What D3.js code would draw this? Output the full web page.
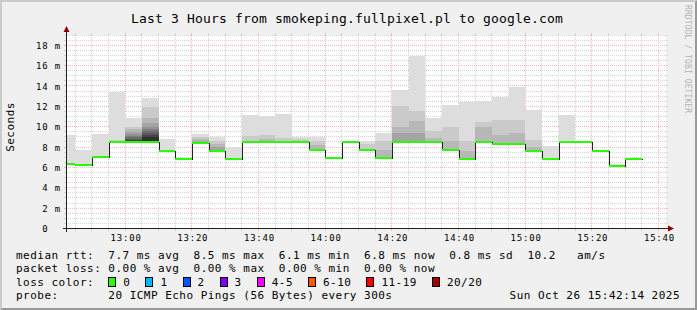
<!DOCTYPE html>
<html><head><meta charset="utf-8">
<script src="https://cdn.jsdelivr.net/npm/d3@7"></script>
<style>
html,body{margin:0;padding:0;background:#f0f0f0;}
svg{display:block;font-family:"DejaVu Sans Mono",monospace;}
text{white-space:pre;}
</style></head><body>
<svg id="c" width="697" height="310"></svg>
<script>
// ---------------- data ----------------
const stepStart = ["12:40","12:45","12:50","12:55","13:00","13:05","13:10","13:15","13:20","13:25",
  "13:30","13:35","13:40","13:45","13:50","13:55","14:00","14:05","14:10","14:15",
  "14:20","14:25","14:30","14:35","14:40","14:45","14:50","14:55","15:00","15:05",
  "15:10","15:15","15:20","15:25","15:30"];
// median rtt in ms per 5-minute step
const medianMs = [6.35,6.25,7.07,8.45,8.45,8.45,7.66,6.87,8.35,7.66,
  6.87,8.45,8.45,8.45,8.45,7.76,6.97,8.45,7.76,6.97,
  8.45,8.45,8.45,7.76,6.87,8.45,8.32,8.32,7.66,6.87,
  8.45,8.45,7.66,6.16,6.87];
// upper ping levels (ms) per step, outermost (slowest) first
const smokeUpper = [
  [9.17],[7.73],[9.3],[13.36,8.7],
  [10.87,10.0,9.75,9.5,9.3,9.1,8.95,8.8,8.7,8.6],
  [12.84,11.9,10.9,10.4,10.0,9.8,9.6,9.4,9.2,9.0],
  [8.84],[],[9.25,9.0,8.8,8.6],[8.97,8.55,8.3,8.0],
  [7.98],[11.17,9.1],[11.07,9.2,8.8],[11.27,8.88],[8.97,8.78],
  [8.97,8.6,8.2],[],[],[8.58,8.29],[9.43,8.55,7.73],
  [13.63,12.0,10.0,9.37],[16.9,11.5,10.58,9.37],[10.9,9.6,8.88],[12.15,10.0,8.55],[12.38,8.55,7.63],
  [12.55,10.5,10.0],[12.87,10.68,9.2],[13.86,10.68,9.37],[11.6,8.7,8.05],[8.12],
  [11.17],[],[],[6.35],[]
];
const yTickValues = [0,2,4,6,8,10,12,14,16,18];
const rttValues = ["7.7","8.5","6.1","6.8","0.8"];
const rttLabels = ["avg","max","min","now","sd"];
const ampsValue = "10.2";
const lossValues = ["0.00","0.00","0.00","0.00"];
const lossLabels = ["avg","max","min","now"];
const lossColorLabels = ["0","1","2","3","4-5","6-10","11-19","20/20"];
const lossColors = ["#26ff00","#00b8ff","#0059ff","#7e00ff","#ff00ff","#ff5500","#ff0000","#a10000"];
const titleText = "Last 3 Hours from smokeping.fullpixel.pl to google.com";
const probeText = "20 ICMP Echo Pings (56 Bytes) every 300s";
const dateText = "Sun Oct 26 15:42:14 2025";

// ---------------- layout ----------------
const W = 697, H = 310;
const PL = 66, PR = 666, PT = 35, PB = 228.5;
const svg = d3.select("#c");
const day = (hm, s=0) => { const [h,m] = hm.split(":").map(Number); return new Date(2025,9,26,h,m,s); };
const tStart = day("12:42",14), tEnd = day("15:42",14);
const x = d3.scaleTime().domain([tStart,tEnd]).range([PL,PR]);
const y = d3.scaleLinear().domain([0,19]).range([PB, PB - 19*10.18]);
const px = v => Math.floor(v) + 0.5;

// background + shades
svg.append("rect").attr("width",W).attr("height",H).attr("fill","#f0f0f0");
svg.append("path").attr("d",`M0,0H${W}L${W-2},2H2V${H-2}L0,${H}Z`).attr("fill","#cbcbcb");
svg.append("path").attr("d",`M${W},${H}H0L2,${H-2}H${W-2}V2L${W},0Z`).attr("fill","#999999");
svg.append("rect").attr("x",PL).attr("y",PT).attr("width",PR-PL).attr("height",PB-PT).attr("fill","#fff");

const defs = svg.append("defs");
defs.append("clipPath").attr("id","plot").append("rect").attr("x",PL).attr("y",PT-1).attr("width",PR-PL).attr("height",PB-PT+1);

// grid
const grid = svg.append("g").attr("shape-rendering","crispEdges");
const minorCol = "#d4d4d4", majorCol = "#f5b8b8";
const minorY = d3.range(0.5, 19.01, 0.5).filter(v => v % 2 !== 0);
const majorY = yTickValues.filter(v => v > 0);
function hLine(v, col){
  const yy = px(y(v));
  grid.append("line").attr("x1",PL).attr("x2",PR).attr("y1",yy).attr("y2",yy)
    .attr("stroke",col).attr("stroke-dasharray","1,1");
  grid.append("line").attr("x1",PL-2).attr("x2",PL).attr("y1",yy).attr("y2",yy).attr("stroke",col);
  grid.append("line").attr("x1",PR).attr("x2",PR+2).attr("y1",yy).attr("y2",yy).attr("stroke",col);
}
function vLine(t, col){
  const xx = px(x(t));
  grid.append("line").attr("y1",PT).attr("y2",PB).attr("x1",xx).attr("x2",xx)
    .attr("stroke",col).attr("stroke-dasharray","1,1");
  grid.append("line").attr("y1",PB).attr("y2",PB+2).attr("x1",xx).attr("x2",xx).attr("stroke",col);
  grid.append("line").attr("y1",PT-2).attr("y2",PT).attr("x1",xx).attr("x2",xx).attr("stroke",col);
}
minorY.forEach(v => hLine(v, minorCol));
const minorT = d3.timeMinute.every(5).range(tStart, tEnd).filter(t => t.getMinutes() % 20 !== 0);
const majorT = d3.timeMinute.every(20).range(tStart, tEnd);
minorT.forEach(t => vLine(t, minorCol));
majorY.forEach(v => hLine(v, majorCol));
majorT.forEach(t => vLine(t, majorCol));

// smoke
const step = 5*60*1000;
const plot = svg.append("g").attr("clip-path","url(#plot)").attr("shape-rendering","crispEdges");
const smokeColor = k => { const c = Math.floor(190/10*(10-(k+1)))+50; return d3.rgb(c,c,c).toString(); };
stepStart.forEach((s,i) => {
  const t0 = day(s), t1 = new Date(+t0 + step);
  const x0 = Math.round(x(t0)), x1 = Math.round(x(t1));
  smokeUpper[i].forEach((top,k) => {
    const yt = Math.round(y(top)), yb = Math.round(y(medianMs[i]));
    plot.append("rect").attr("x",x0).attr("width",x1-x0).attr("y",yt).attr("height",Math.max(0,yb-yt))
      .attr("fill",smokeColor(k));
  });
});

// median step line (black) + green loss band
const medPts = [];
stepStart.forEach((s,i) => { const t0 = day(s); medPts.push([t0, medianMs[i]]); medPts.push([new Date(+t0+step), medianMs[i]]); });
const line = d3.line().x(d => Math.round(x(d[0]))+0.5).y(d => Math.round(y(d[1]))+0.5);
plot.append("path").attr("d",line(medPts)).attr("fill","none").attr("stroke","#202020").attr("stroke-width",1);
stepStart.forEach((s,i) => {
  const t0 = day(s), t1 = new Date(+t0 + step);
  const x0 = Math.round(x(t0)), x1 = Math.round(x(t1));
  const ym = Math.round(y(medianMs[i]));
  plot.append("rect").attr("x",x0).attr("width",x1-x0).attr("y",ym-1).attr("height",2).attr("fill",lossColors[0]);
});

// axes
const ax = svg.append("g").attr("shape-rendering","crispEdges");
ax.append("line").attr("x1",PL-3).attr("x2",PR+3).attr("y1",px(PB)).attr("y2",px(PB)).attr("stroke","#202020");
ax.append("line").attr("x1",PL+0.5).attr("x2",PL+0.5).attr("y1",PB+3).attr("y2",PT-4).attr("stroke","#202020");
svg.append("path").attr("d",`M${PR+2},${px(PB)-3}L${PR+8},${px(PB)}L${PR+2},${px(PB)+3}Z`).attr("fill","#900000");
svg.append("path").attr("d",`M${PL+0.5-3},${PT-3}L${PL+0.5},${PT-9}L${PL+0.5+3},${PT-3}Z`).attr("fill","#900000");

// tick labels
const tickFont = {size:"9px", ls:"0.8px"};
const xAxis = d3.axisBottom(x).tickValues(majorT).tickFormat(d3.timeFormat("%H:%M")).tickSize(0).tickPadding(0);
const gx = svg.append("g").attr("transform",`translate(0,${PB})`).call(xAxis);
gx.select(".domain").remove();
gx.selectAll("text").attr("font-family","DejaVu Sans Mono").attr("font-size",tickFont.size)
  .attr("letter-spacing",tickFont.ls).attr("fill","#000").attr("dy",null).attr("y",12.5)
  .attr("dominant-baseline","auto").attr("dx","0.4px");
const yAxis = d3.axisLeft(y).tickValues(yTickValues).tickSize(0).tickPadding(0)
  .tickFormat(v => v === 0 ? " 0" : String(v).padStart(2," ") + " m");
const gy = svg.append("g").call(yAxis);
gy.select(".domain").remove();
gy.selectAll("text").attr("font-family","DejaVu Sans Mono").attr("font-size",tickFont.size)
  .attr("letter-spacing",tickFont.ls).attr("fill","#000").attr("text-anchor","start")
  .attr("x",36).attr("dy","0.34em");

// title
svg.append("text").attr("x",347).attr("y",23).attr("text-anchor","middle")
  .attr("font-size","13px").attr("letter-spacing","0.17px").attr("fill","#000").text(titleText);
// y label
svg.append("text").attr("transform","translate(14,127) rotate(-90)").attr("text-anchor","middle")
  .attr("font-size","11px").attr("letter-spacing","0.48px").attr("fill","#000").text("Seconds");
// watermark
svg.append("text").attr("transform","translate(685,5) rotate(90)").attr("text-anchor","start")
  .attr("font-size","8px").attr("letter-spacing","0.1px").attr("fill","#b4b4b4").text("RRDTOOL / TOBI OETIKER");

// legend
const LX = 16, ADV = 7.1;
const leg = svg.append("g").attr("font-size","11px").attr("letter-spacing","0.48px").attr("fill","#000");
const pad = (s,n) => s + " ".repeat(Math.max(0,n - s.length));
let l1 = pad("median rtt:",13) + rttValues.map((v,i)=> v + " ms " + rttLabels[i]).join("  ") + "  " + ampsValue + "   am/s";
let l2 = pad("packet loss:",13) + lossValues.map((v,i)=> v + " % " + lossLabels[i]).join("  ");
leg.append("text").attr("x",LX).attr("y",258.5).text(l1);
leg.append("text").attr("x",LX).attr("y",272).text(l2);
leg.append("text").attr("x",LX).attr("y",285.5).text("loss color:");
let bx = LX + 13*ADV;
lossColorLabels.forEach((lab,i) => {
  leg.append("rect").attr("x",Math.round(bx)+0.5).attr("y",277.5).attr("width",7).attr("height",9)
    .attr("fill",lossColors[i]).attr("stroke","#000").attr("shape-rendering","crispEdges");
  leg.append("text").attr("x",bx+15).attr("y",285.5).text(lab);
  bx = bx + 15 + lab.length*ADV + 15;
});
leg.append("text").attr("x",LX).attr("y",299).text(pad("probe:",13) + probeText);
leg.append("text").attr("x",680).attr("y",299).attr("text-anchor","end").text(dateText);
</script>
</body></html>
